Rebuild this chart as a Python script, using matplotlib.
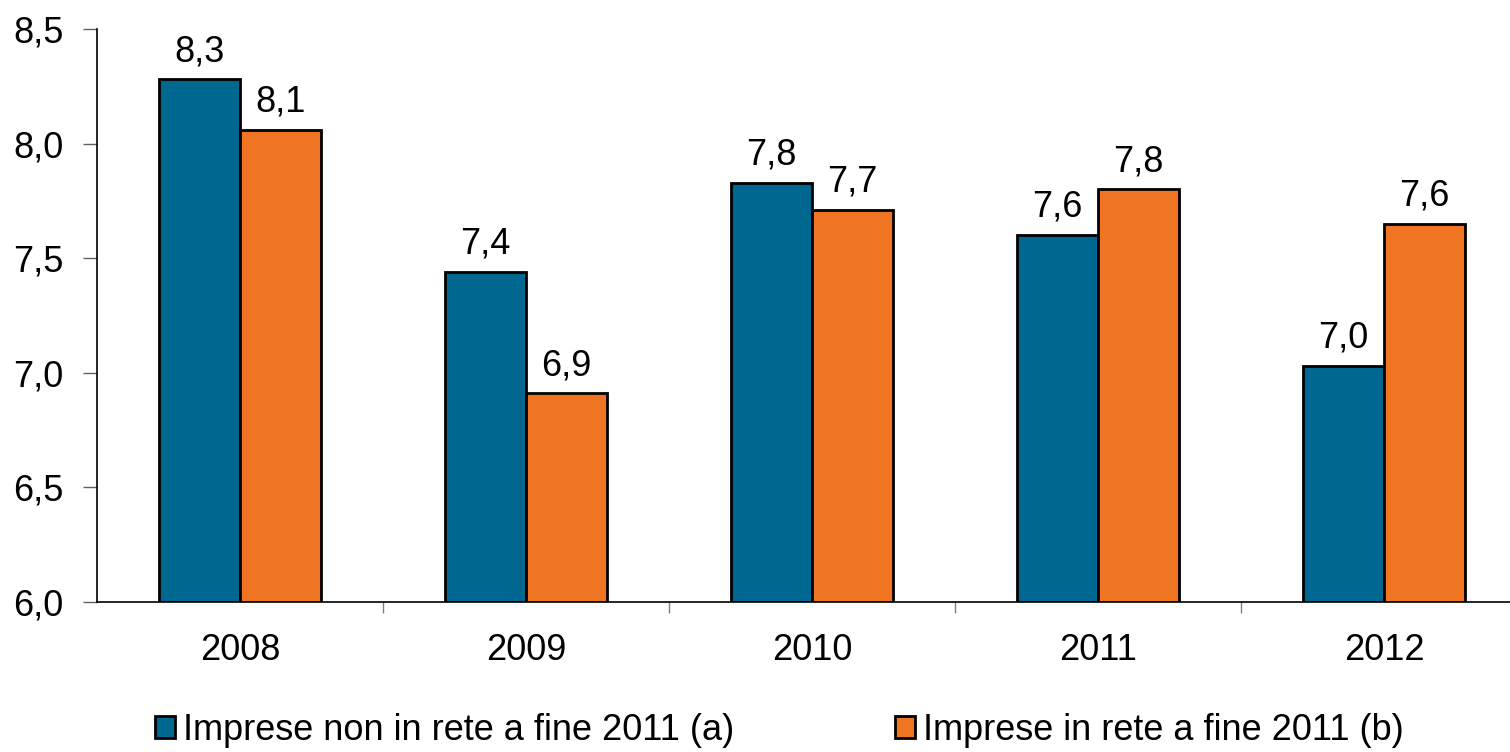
import matplotlib.pyplot as plt
import numpy as np

plt.rcParams['font.family'] = ['Liberation Sans', 'DejaVu Sans']

anni = ['2008', '2009', '2010', '2011', '2012']
non_in_rete = [8.28, 7.44, 7.83, 7.60, 7.03]
in_rete = [8.06, 6.91, 7.71, 7.80, 7.65]
etichette_a = ['8,3', '7,4', '7,8', '7,6', '7,0']
etichette_b = ['8,1', '6,9', '7,7', '7,8', '7,6']

blu = '#006890'
arancio = '#F07522'
fs = 26

fig = plt.figure(figsize=(15.1, 7.52), dpi=100)
ax = fig.add_axes([97 / 1510, 1 - 602 / 752, 1 - 97 / 1510, (602 - 29) / 752])

x = np.arange(len(anni))
w = 0.283
b1 = ax.bar(x - w / 2, np.array(non_in_rete) - 6, w, bottom=6, color=blu,
            edgecolor='black', linewidth=2, label='Imprese non in rete a fine 2011 (a)')
b2 = ax.bar(x + w / 2, np.array(in_rete) - 6, w, bottom=6, color=arancio,
            edgecolor='black', linewidth=2, label='Imprese in rete a fine 2011 (b)')

for xi, v, t in zip(x, non_in_rete, etichette_a):
    ax.text(xi - w / 2, v + 0.045, t, ha='center', va='bottom', fontsize=fs)
for xi, v, t in zip(x, in_rete, etichette_b):
    ax.text(xi + w / 2, v + 0.045, t, ha='center', va='bottom', fontsize=fs)

ax.set_ylim(6, 8.5)
ax.set_xlim(-0.5, 4.44)
ax.set_yticks([6.0, 6.5, 7.0, 7.5, 8.0, 8.5])
ax.set_yticklabels(['6,0', '6,5', '7,0', '7,5', '8,0', '8,5'], fontsize=fs)
ax.set_xticks(x)
ax.set_xticklabels(anni, fontsize=fs)
ax.tick_params(axis='x', length=0, pad=22)
ax.set_xticks(np.arange(0.5, 4.5, 1), minor=True)
ax.tick_params(axis='x', which='minor', length=8, color='#808080', width=1)
ax.tick_params(axis='y', length=10, width=1, color='#606060', pad=14)

for s in ['top', 'right']:
    ax.spines[s].set_visible(False)
ax.spines['left'].set_linewidth(1.2)
ax.spines['bottom'].set_linewidth(1.2)

fig.legend(handles=[b1, b2], loc='lower center', bbox_to_anchor=(0.516, -0.038), ncol=2,
           frameon=False, fontsize=fs, handlelength=0.55, handleheight=0.55,
           handletextpad=0.22, columnspacing=4.45)

fig.savefig('out.png', dpi=100)
